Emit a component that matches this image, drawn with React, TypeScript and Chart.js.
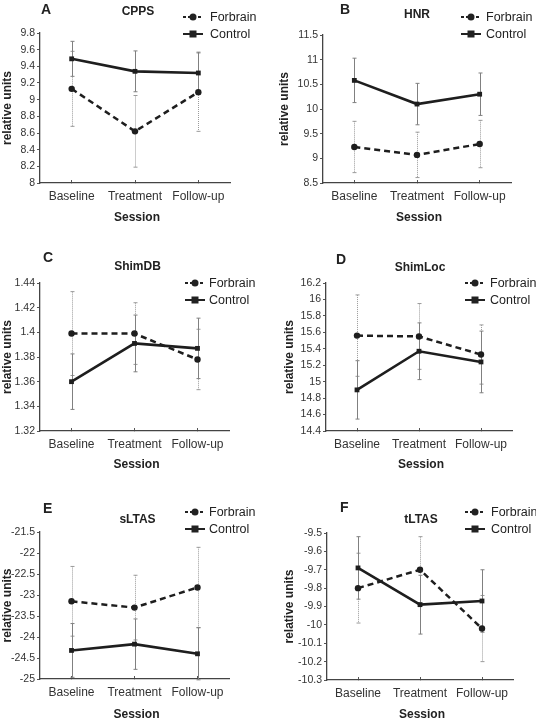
import React, { useEffect, useRef } from "react";
import { Chart, registerables } from "chart.js";

Chart.register(...registerables);

// ---------- data ----------
const sessions = ["Baseline", "Treatment", "Follow-up"];
const seriesNames = ["Forbrain", "Control"];

const cppsForbrain = [9.13, 8.62, 9.09];
const cppsForbrainErr = [0.45, 0.43, 0.47];
const cppsControl = [9.49, 9.34, 9.32];
const cppsControlErr = [0.21, 0.245, 0.25];
const cppsAxis = [8, 9.8, 0.2];

const hnrForbrain = [9.23, 9.07, 9.29];
const hnrForbrainErr = [0.52, 0.46, 0.48];
const hnrControl = [10.58, 10.1, 10.3];
const hnrControlErr = [0.45, 0.42, 0.43];
const hnrAxis = [8.5, 11.5, 0.5];

const shimDbForbrain = [1.399, 1.399, 1.378];
const shimDbForbrainErr = [0.034, 0.025, 0.0245];
const shimDbControl = [1.36, 1.391, 1.387];
const shimDbControlErr = [0.0225, 0.023, 0.0245];
const shimDbAxis = [1.32, 1.44, 0.02];

const shimLocForbrain = [15.56, 15.55, 15.33];
const shimLocForbrainErr = [0.495, 0.4, 0.36];
const shimLocControl = [14.9, 15.37, 15.24];
const shimLocControlErr = [0.355, 0.345, 0.375];
const shimLocAxis = [14.4, 16.2, 0.2];

const sltasForbrain = [-23.15, -23.3, -22.82];
const sltasForbrainErr = [0.83, 0.77, 0.955];
const sltasControl = [-24.32, -24.17, -24.4];
const sltasControlErr = [0.64, 0.6, 0.62];
const sltasAxis = [-25, -21.5, 0.5];

const tltasForbrain = [-9.8, -9.7, -10.02];
const tltasForbrainErr = [0.19, 0.18, 0.18];
const tltasControl = [-9.69, -9.89, -9.87];
const tltasControlErr = [0.17, 0.16, 0.17];
const tltasAxis = [-10.3, -9.5, 0.1];

const panelLetters = ["A", "B", "C", "D", "E", "F"];
const panelTitles = ["CPPS", "HNR", "ShimDB", "ShimLoc", "sLTAS", "tLTAS"];
const yAxisTitle = "relative units";
const xAxisTitle = "Session";

const panelData = [
  { f: cppsForbrain, fe: cppsForbrainErr, c: cppsControl, ce: cppsControlErr, axis: cppsAxis },
  { f: hnrForbrain, fe: hnrForbrainErr, c: hnrControl, ce: hnrControlErr, axis: hnrAxis },
  { f: shimDbForbrain, fe: shimDbForbrainErr, c: shimDbControl, ce: shimDbControlErr, axis: shimDbAxis },
  { f: shimLocForbrain, fe: shimLocForbrainErr, c: shimLocControl, ce: shimLocControlErr, axis: shimLocAxis },
  { f: sltasForbrain, fe: sltasForbrainErr, c: sltasControl, ce: sltasControlErr, axis: sltasAxis },
  { f: tltasForbrain, fe: tltasForbrainErr, c: tltasControl, ce: tltasControlErr, axis: tltasAxis },
];

// ---------- layout ----------
const W = 268;
const H = 240;
const FONT = "'Liberation Sans', Arial, sans-serif";

type Layout = {
  x: number; y: number;
  area: [number, number, number, number]; // left, right, top, bottom
  letter: [number, number];
  titleY: number; titleDx: number;
  legend: [number, number, number]; // lineStart, textX, row1Y
  yTitleX: number; xTitleY: number;
};

const layouts: Layout[] = [
  { x: 0, y: 0, area: [40, 230, 33, 183], letter: [41, 10], titleY: 12, titleDx: 3, legend: [183, 210, 17], yTitleX: 8, xTitleY: 218 },
  { x: 268, y: 0, area: [55, 243, 35, 183], letter: [72, 10], titleY: 15, titleDx: 0, legend: [193, 218, 17], yTitleX: 17, xTitleY: 218 },
  { x: 0, y: 240, area: [40, 229, 43, 191], letter: [43, 18], titleY: 27, titleDx: 3, legend: [185, 209, 43], yTitleX: 8, xTitleY: 225 },
  { x: 268, y: 240, area: [58, 244, 43, 191], letter: [68, 20], titleY: 28, titleDx: 1, legend: [197, 222, 43], yTitleX: 22, xTitleY: 225 },
  { x: 0, y: 480, area: [40, 229, 52, 199], letter: [43, 29], titleY: 40, titleDx: 3, legend: [185, 209, 32], yTitleX: 8, xTitleY: 235 },
  { x: 268, y: 480, area: [59, 245, 53, 200], letter: [72, 28], titleY: 40, titleDx: 1, legend: [197, 223, 32], yTitleX: 22, xTitleY: 235 },
];

const errorBarsPlugin = {
  id: "errorBars",
  beforeDatasetsDraw(chart: any, _args: any, opts: any) {
    const { ctx } = chart;
    const xs = chart.scales.x;
    const ys = chart.scales.y;
    const errs: number[][] = opts.errors || [];
    chart.data.datasets.forEach((ds: any, i: number) => {
      const e = errs[i];
      if (!e) return;
      ctx.save();
      ctx.lineWidth = 1;
      ctx.strokeStyle = i === 0 ? "#9a9a9a" : "#808080";
      ctx.setLineDash(i === 0 ? [1, 1] : []);
      (ds.data as number[]).forEach((v, j) => {
        const x = Math.round(xs.getPixelForValue(j)) + 0.5;
        const yt = ys.getPixelForValue(v + e[j]);
        const yb = ys.getPixelForValue(v - e[j]);
        ctx.beginPath();
        ctx.moveTo(x, yt);
        ctx.lineTo(x, yb);
        ctx.stroke();
        ctx.setLineDash([]);
        ctx.beginPath();
        ctx.moveTo(x - 2, yt);
        ctx.lineTo(x + 2, yt);
        ctx.moveTo(x - 2, yb);
        ctx.lineTo(x + 2, yb);
        ctx.stroke();
        ctx.setLineDash(i === 0 ? [1, 1] : []);
      });
      ctx.restore();
    });
  },
};

const annotationsPlugin = {
  id: "panelText",
  afterDraw(chart: any, _args: any, opts: any) {
    const { ctx, chartArea } = chart;
    const L: Layout = opts.layout;
    ctx.save();
    ctx.fillStyle = "#222";
    ctx.textBaseline = "middle";
    // letter
    ctx.font = `bold 14px ${FONT}`;
    ctx.textAlign = "left";
    ctx.fillText(opts.letter, L.letter[0], L.letter[1]);
    // title
    ctx.font = `bold 12px ${FONT}`;
    ctx.textAlign = "center";
    ctx.fillText(opts.title, (chartArea.left + chartArea.right) / 2 + L.titleDx, L.titleY);
    // x title
    ctx.fillText(xAxisTitle, (chartArea.left + chartArea.right) / 2 + 2, L.xTitleY);
    // y title
    ctx.save();
    ctx.translate(L.yTitleX, (chartArea.top + chartArea.bottom) / 2);
    ctx.rotate(-Math.PI / 2);
    ctx.fillText(yAxisTitle, 0, 0);
    ctx.restore();
    // legend
    const [lx, tx, ry] = L.legend;
    ctx.font = `12.5px ${FONT}`;
    ctx.textAlign = "left";
    ctx.strokeStyle = "#222";
    ctx.lineWidth = 2;
    seriesNames.forEach((name, i) => {
      const y = ry + i * 17;
      ctx.beginPath();
      ctx.setLineDash(i === 0 ? [3, 2] : []);
      ctx.moveTo(lx, y);
      ctx.lineTo(lx + 20, y);
      ctx.stroke();
      ctx.setLineDash([]);
      ctx.beginPath();
      if (i === 0) {
        ctx.arc(lx + 10, y, 3.5, 0, Math.PI * 2);
        ctx.fill();
      } else {
        ctx.fillRect(lx + 6.5, y - 3.5, 7, 7);
      }
      ctx.fillStyle = "#222";
      ctx.fillText(name, tx, y + 0.5);
    });
    ctx.restore();
  },
};

function fmt(v: any) {
  return String(parseFloat(Number(v).toFixed(4)));
}

function Panel({ idx }: { idx: number }) {
  const ref = useRef<HTMLCanvasElement>(null);
  useEffect(() => {
    const d = panelData[idx];
    const L = layouts[idx];
    const [aL, aR, aT, aB] = L.area;
    const chart = new Chart(ref.current!, {
      type: "line",
      data: {
        labels: sessions,
        datasets: [
          {
            label: seriesNames[0],
            data: d.f,
            borderColor: "#1e1e1e",
            backgroundColor: "#1e1e1e",
            borderWidth: 2.5,
            borderDash: [6, 4],
            pointStyle: "circle",
            pointRadius: 3.2,
            pointBackgroundColor: "#1e1e1e",
            pointBorderWidth: 0,
            tension: 0,
          },
          {
            label: seriesNames[1],
            data: d.c,
            borderColor: "#1e1e1e",
            backgroundColor: "#1e1e1e",
            borderWidth: 2.6,
            pointStyle: "rect",
            pointRadius: 3.4,
            pointBackgroundColor: "#1e1e1e",
            pointBorderWidth: 0,
            tension: 0,
          },
        ],
      },
      options: {
        animation: false,
        responsive: false,
        devicePixelRatio: 1,
        layout: { padding: { left: 0, top: aT, right: W - aR, bottom: 0 } },
        plugins: {
          legend: { display: false },
          title: { display: false },
          tooltip: { enabled: false },
          errorBars: { errors: [d.fe, d.ce] },
          panelText: { layout: L, letter: panelLetters[idx], title: panelTitles[idx] },
        } as any,
        scales: {
          x: {
            type: "category",
            offset: true,
            grid: { display: true, drawOnChartArea: false, tickLength: -3, color: "#555", lineWidth: 1 },
            border: { display: true, color: "#444", width: 1.3 },
            ticks: { color: "#333", font: { family: FONT, size: 12 }, padding: 9, maxRotation: 0, autoSkip: false },
            afterFit: (s: any) => { s.height = H - aB; },
          },
          y: {
            type: "linear",
            min: d.axis[0],
            max: d.axis[1],
            grid: { display: true, drawOnChartArea: false, tickLength: 3, color: "#555", lineWidth: 1 },
            border: { display: true, color: "#444", width: 1.3 },
            ticks: { stepSize: d.axis[2], color: "#333", font: { family: FONT, size: 10.5 }, padding: 2, callback: fmt, autoSkip: false },
            afterFit: (s: any) => { s.width = aL; },
          },
        },
      },
      plugins: [errorBarsPlugin, annotationsPlugin],
    });
    return () => chart.destroy();
  }, [idx]);
  const L = layouts[idx];
  return (
    <canvas
      ref={ref}
      width={W}
      height={H}
      style={{ position: "absolute", left: L.x, top: L.y, width: W, height: H }}
    />
  );
}

export default function App() {
  return (
    <div style={{ position: "fixed", left: 0, top: 0, width: 536, height: 720, background: "#fff", overflow: "hidden" }}>
      {panelLetters.map((_, i) => (
        <Panel key={i} idx={i} />
      ))}
    </div>
  );
}
